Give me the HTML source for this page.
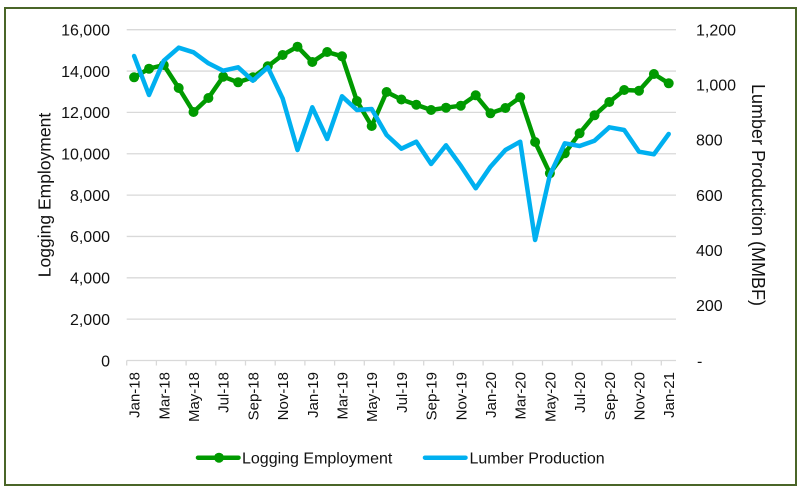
<!DOCTYPE html>
<html>
<head>
<meta charset="utf-8">
<style>
  html,body{margin:0;padding:0;background:#fff;}
  svg{display:block;}
  text{font-family:"Liberation Sans",Arial,sans-serif;fill:#111;}
</style>
</head>
<body>
<svg width="805" height="495" viewBox="0 0 805 495" xmlns="http://www.w3.org/2000/svg">
  <rect x="0" y="0" width="805" height="495" fill="#fff"/>
  <rect x="5" y="8" width="791" height="477" fill="none" stroke="#4a6528" stroke-width="2"/>

  <!-- gridlines -->
  <g stroke="#d9d9d9" stroke-width="1.3">
    <line x1="126.7" y1="29.7" x2="676" y2="29.7"/>
    <line x1="126.7" y1="71.05" x2="676" y2="71.05"/>
    <line x1="126.7" y1="112.4" x2="676" y2="112.4"/>
    <line x1="126.7" y1="153.75" x2="676" y2="153.75"/>
    <line x1="126.7" y1="195.1" x2="676" y2="195.1"/>
    <line x1="126.7" y1="236.45" x2="676" y2="236.45"/>
    <line x1="126.7" y1="277.8" x2="676" y2="277.8"/>
    <line x1="126.7" y1="319.15" x2="676" y2="319.15"/>
    <line x1="126.7" y1="360.5" x2="676" y2="360.5"/>
  </g>
  <!-- ticks -->
  <g stroke="#d9d9d9" stroke-width="1.3">
    <line x1="126.7" y1="360.5" x2="126.7" y2="365.5"/>
    <line x1="156.4" y1="360.5" x2="156.4" y2="365.5"/>
    <line x1="186.1" y1="360.5" x2="186.1" y2="365.5"/>
    <line x1="215.8" y1="360.5" x2="215.8" y2="365.5"/>
    <line x1="245.5" y1="360.5" x2="245.5" y2="365.5"/>
    <line x1="275.2" y1="360.5" x2="275.2" y2="365.5"/>
    <line x1="304.9" y1="360.5" x2="304.9" y2="365.5"/>
    <line x1="334.6" y1="360.5" x2="334.6" y2="365.5"/>
    <line x1="364.3" y1="360.5" x2="364.3" y2="365.5"/>
    <line x1="394.0" y1="360.5" x2="394.0" y2="365.5"/>
    <line x1="423.7" y1="360.5" x2="423.7" y2="365.5"/>
    <line x1="453.4" y1="360.5" x2="453.4" y2="365.5"/>
    <line x1="483.1" y1="360.5" x2="483.1" y2="365.5"/>
    <line x1="512.8" y1="360.5" x2="512.8" y2="365.5"/>
    <line x1="542.5" y1="360.5" x2="542.5" y2="365.5"/>
    <line x1="572.2" y1="360.5" x2="572.2" y2="365.5"/>
    <line x1="601.9" y1="360.5" x2="601.9" y2="365.5"/>
    <line x1="631.6" y1="360.5" x2="631.6" y2="365.5"/>
    <line x1="661.3" y1="360.5" x2="661.3" y2="365.5"/>
  </g>

  <!-- left axis labels -->
  <g font-size="16" text-anchor="end">
    <text x="110" y="35.5">16,000</text>
    <text x="110" y="76.8">14,000</text>
    <text x="110" y="118.2">12,000</text>
    <text x="110" y="159.5">10,000</text>
    <text x="110" y="200.9">8,000</text>
    <text x="110" y="242.2">6,000</text>
    <text x="110" y="283.6">4,000</text>
    <text x="110" y="324.9">2,000</text>
    <text x="110" y="366.3">0</text>
  </g>
  <!-- right axis labels -->
  <g font-size="16" text-anchor="start">
    <text x="696" y="35.5">1,200</text>
    <text x="696" y="90.6">1,000</text>
    <text x="696" y="145.7">800</text>
    <text x="696" y="200.9">600</text>
    <text x="696" y="256.0">400</text>
    <text x="696" y="311.2">200</text>
    <text x="697" y="366.3">-</text>
  </g>

  <!-- axis titles -->
  <text font-size="17.5" text-anchor="middle" transform="translate(50.5,195) rotate(-90)">Logging Employment</text>
  <text font-size="18" text-anchor="middle" transform="translate(752,195) rotate(90)">Lumber Production (MMBF)</text>

  <!-- x labels -->
  <g font-size="15" text-anchor="end">
    <text transform="translate(139.6,372) rotate(-90)">Jan-18</text>
    <text transform="translate(169.3,372) rotate(-90)">Mar-18</text>
    <text transform="translate(199.0,372) rotate(-90)">May-18</text>
    <text transform="translate(228.7,372) rotate(-90)">Jul-18</text>
    <text transform="translate(258.4,372) rotate(-90)">Sep-18</text>
    <text transform="translate(288.1,372) rotate(-90)">Nov-18</text>
    <text transform="translate(317.8,372) rotate(-90)">Jan-19</text>
    <text transform="translate(347.5,372) rotate(-90)">Mar-19</text>
    <text transform="translate(377.2,372) rotate(-90)">May-19</text>
    <text transform="translate(406.9,372) rotate(-90)">Jul-19</text>
    <text transform="translate(436.6,372) rotate(-90)">Sep-19</text>
    <text transform="translate(466.3,372) rotate(-90)">Nov-19</text>
    <text transform="translate(496.0,372) rotate(-90)">Jan-20</text>
    <text transform="translate(525.7,372) rotate(-90)">Mar-20</text>
    <text transform="translate(555.4,372) rotate(-90)">May-20</text>
    <text transform="translate(585.1,372) rotate(-90)">Jul-20</text>
    <text transform="translate(614.8,372) rotate(-90)">Sep-20</text>
    <text transform="translate(644.5,372) rotate(-90)">Nov-20</text>
    <text transform="translate(674.2,372) rotate(-90)">Jan-21</text>
  </g>

  <!-- Logging Employment (green) -->
  <polyline fill="none" stroke="#009a00" stroke-width="4.5" stroke-linejoin="round" stroke-linecap="round"
    points="134.1,77.3 149,68.7 163.8,65 178.7,88 193.5,112 208.4,98 223.2,76.7 238.1,82.3 252.9,77.3 267.8,66.3 282.6,55 297.5,46.7 312.3,62 327.2,52 342,56.3 356.9,101 371.7,126 386.6,92 401.4,99.5 416.3,104.7 431.1,110 446,107.7 460.8,105.7 475.7,95.3 490.5,113.3 505.4,108 520.2,97.3 535.1,142 549.9,173.3 564.8,153.3 579.6,133.3 594.5,115.3 609.3,102 624.2,90 639,90.7 653.9,74 668.7,83.3"/>
  <g fill="#009a00">
    <circle cx="134.1" cy="77.3" r="5"/><circle cx="149" cy="68.7" r="5"/><circle cx="163.8" cy="65" r="5"/>
    <circle cx="178.7" cy="88" r="5"/><circle cx="193.5" cy="112" r="5"/><circle cx="208.4" cy="98" r="5"/>
    <circle cx="223.2" cy="76.7" r="5"/><circle cx="238.1" cy="82.3" r="5"/><circle cx="252.9" cy="77.3" r="5"/>
    <circle cx="267.8" cy="66.3" r="5"/><circle cx="282.6" cy="55" r="5"/><circle cx="297.5" cy="46.7" r="5"/>
    <circle cx="312.3" cy="62" r="5"/><circle cx="327.2" cy="52" r="5"/><circle cx="342" cy="56.3" r="5"/>
    <circle cx="356.9" cy="101" r="5"/><circle cx="371.7" cy="126" r="5"/><circle cx="386.6" cy="92" r="5"/>
    <circle cx="401.4" cy="99.5" r="5"/><circle cx="416.3" cy="104.7" r="5"/><circle cx="431.1" cy="110" r="5"/>
    <circle cx="446" cy="107.7" r="5"/><circle cx="460.8" cy="105.7" r="5"/><circle cx="475.7" cy="95.3" r="5"/>
    <circle cx="490.5" cy="113.3" r="5"/><circle cx="505.4" cy="108" r="5"/><circle cx="520.2" cy="97.3" r="5"/>
    <circle cx="535.1" cy="142" r="5"/><circle cx="549.9" cy="173.3" r="5"/><circle cx="564.8" cy="153.3" r="5"/>
    <circle cx="579.6" cy="133.3" r="5"/><circle cx="594.5" cy="115.3" r="5"/><circle cx="609.3" cy="102" r="5"/>
    <circle cx="624.2" cy="90" r="5"/><circle cx="639" cy="90.7" r="5"/><circle cx="653.9" cy="74" r="5"/>
    <circle cx="668.7" cy="83.3" r="5"/>
  </g>

  <!-- Lumber Production (blue) -->
  <polyline fill="none" stroke="#00b0f0" stroke-width="4.5" stroke-linejoin="round" stroke-linecap="round"
    points="134.1,56 149,95 163.8,60.7 178.7,47.7 193.5,52.3 208.4,63.3 223.2,70.7 238.1,67.3 252.9,80.7 267.8,67.3 282.6,98.3 297.5,150 312.3,107.3 327.2,139 342,96.3 356.9,110 371.7,109 386.6,135 401.4,148.7 416.3,141.7 431.1,164 446,145.3 460.8,165.7 475.7,188.3 490.5,166.7 505.4,150 520.2,141.7 535.1,240 549.9,175 564.8,143.3 579.6,146 594.5,140.7 609.3,127.3 624.2,130 639,151.7 653.9,154.3 668.7,134"/>

  <!-- legend -->
  <line x1="198" y1="457.7" x2="238.5" y2="457.7" stroke="#009a00" stroke-width="4.5" stroke-linecap="round"/>
  <circle cx="219" cy="457.7" r="5" fill="#009a00"/>
  <text x="242" y="463.5" font-size="16">Logging Employment</text>
  <line x1="425" y1="457.7" x2="465.5" y2="457.7" stroke="#00b0f0" stroke-width="4.5" stroke-linecap="round"/>
  <text x="469.5" y="463.5" font-size="16">Lumber Production</text>
</svg>
</body>
</html>
